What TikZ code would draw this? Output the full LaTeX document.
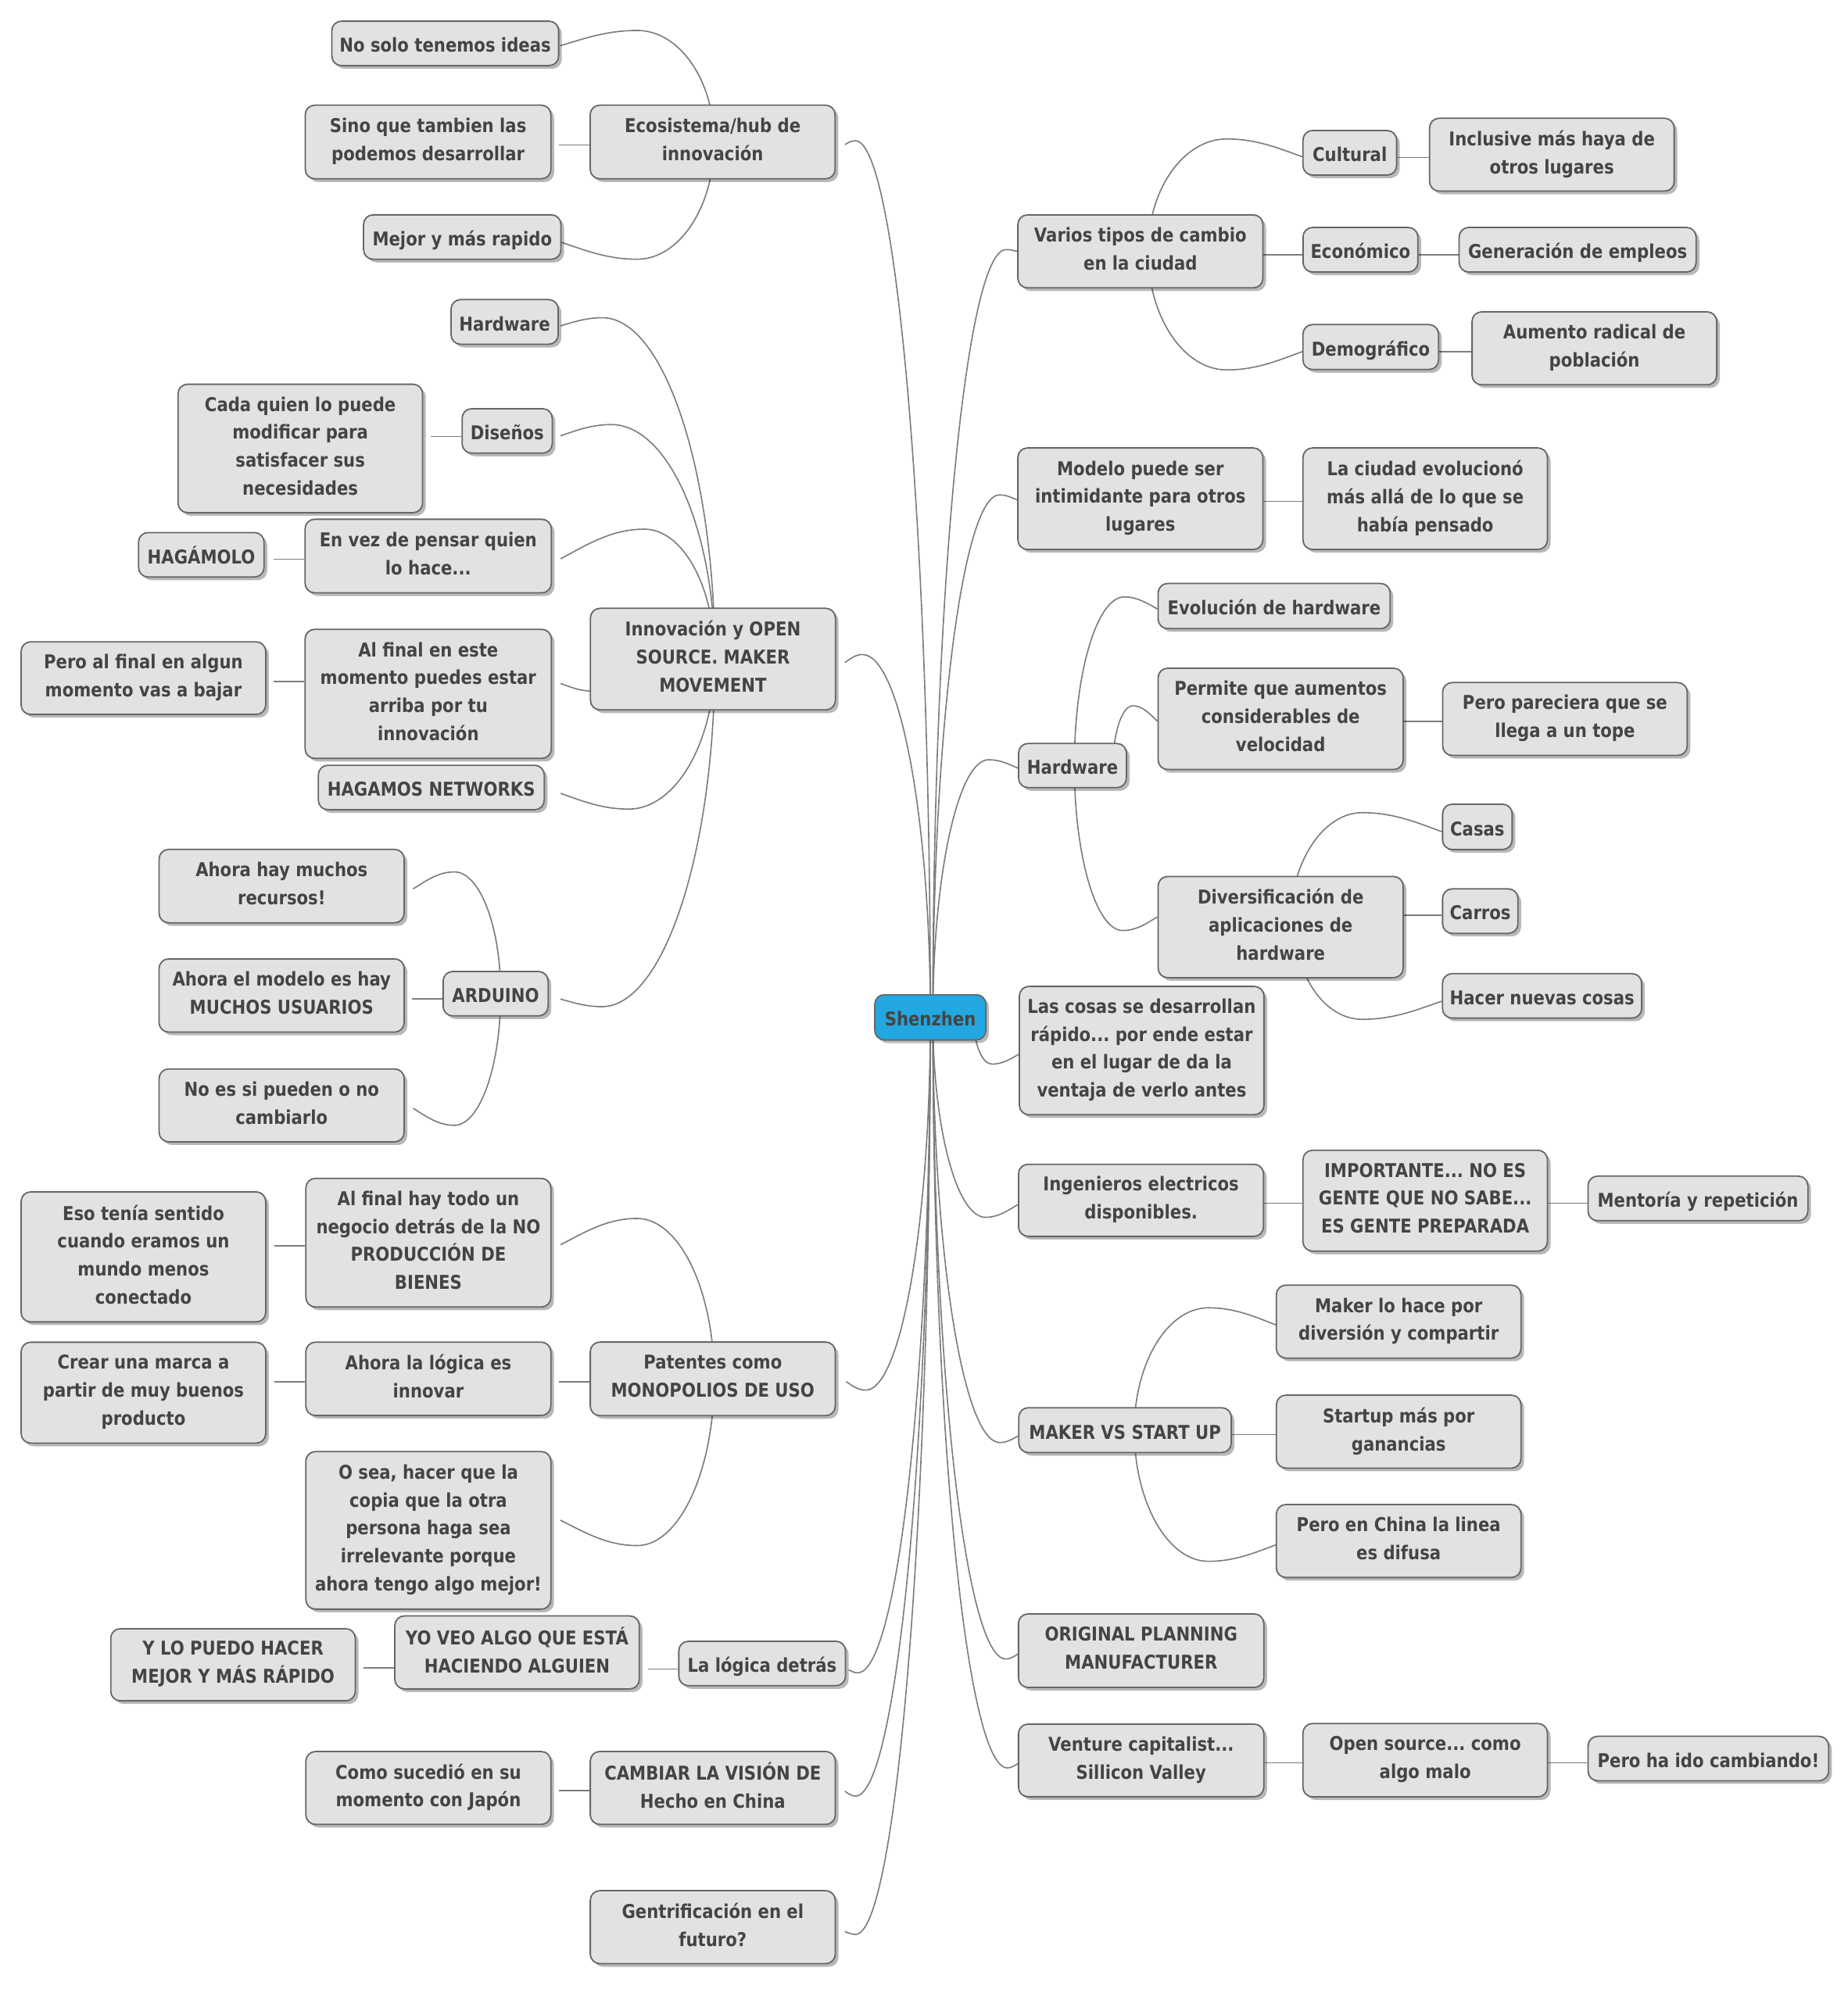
\documentclass[tikz,border=0pt]{standalone}
\usepackage{fontspec}
\newfontfamily\nodefont[FakeStretch=0.87]{DejaVu Sans}
\usetikzlibrary{calc,shadows}
\pgfdeclarelayer{bg}
\pgfsetlayers{bg,main}
\definecolor{boxfill}{HTML}{E2E2E2}
\definecolor{boxline}{HTML}{666666}
\definecolor{txt}{HTML}{444444}
\definecolor{linkc}{HTML}{7C7C7C}
\definecolor{rootfill}{HTML}{22A7E0}
\newcommand\nstrut{\rule[-4.1pt]{0pt}{22pt}}
\tikzset{
  box/.style={draw=boxline, line width=1.1pt, fill=boxfill, rounded corners=7.5pt,
    inner sep=0pt, align=center, text=txt,
    font=\nodefont\bfseries\fontsize{15}{22}\selectfont\frenchspacing,
    drop shadow={shadow xshift=2.5pt, shadow yshift=-2.5pt, opacity=0.28, fill=black},
    execute at begin node=\nstrut, execute at end node=\nstrut},
  rootbox/.style={box, fill=rootfill},
  sz/.style 2 args={minimum width=#1pt, minimum height=#2pt},
  link/.style={draw=linkc, line width=1pt},
}
% curved link: #1 parent anchor, #2 x shift of start, #3 child anchor, #4,#5 end offset, #6,#7 peak offset from end
\newcommand\lnk[7]{%
  \draw[link] let \p1=($(#1)+(#2,0)$), \p3=($(#3)+(#4,#5)$), \p2=($(#3)+({#4+(#6)},{#5+(#7)})$) in
  (\p1) .. controls (\x1,{(\y1)+0.55*((\y2)-(\y1))}) and ({(\x2)+0.55*((\x1)-(\x2))},\y2) .. (\p2)
  .. controls ({(\x2)+0.4*((\x3)-(\x2))},\y2) and ({(\x3)+0.3*((\x2)-(\x3))},{(\y3)+0.45*((\y2)-(\y3))}) .. (\p3);}
% straight link to the left of parent
\newcommand\lsl[2]{\draw[link] ($(#1.west)+(0,#2)$) -- ++(-24,0);}
% straight link to the right, from parent to child
\newcommand\rsl[3]{\draw[link] ($(#1.east)+(0,#3)$) coordinate (tmp) -- (tmp -| #2.west);}

\begin{document}
\begin{tikzpicture}[x=1pt,y=-1pt]
\useasboundingbox (0,0) rectangle (1456,1570.6);
% ---------- root ----------
\node[rootbox, sz={87.5}{35.7}] (root) at (733,801.7) {Shenzhen};
% ---------- left level 1 ----------
\node[box, sz={193}{58}] (ecos) at (561.5,111.9) {Ecosistema/hub de\\innovación};
\node[box, sz={193}{80}] (innov) at (561.7,519.4) {Innovación y OPEN\\SOURCE. MAKER\\MOVEMENT};
\node[box, sz={193}{58}] (pat) at (561.6,1086.6) {Patentes como\\MONOPOLIOS DE USO};
\node[box, sz={131.3}{35}] (logica) at (600.5,1310.9) {La lógica detrás};
\node[box, sz={193}{57.5}] (camb) at (561.6,1409) {CAMBIAR LA VISIÓN DE\\Hecho en China};
\node[box, sz={193}{57.5}] (gent) at (561.6,1518.7) {Gentrificación en el\\futuro?};
% ---------- left level 2 ----------
\node[box, sz={178.7}{35}] (nosolo) at (350.8,34.2) {No solo tenemos ideas};
\node[box, sz={193.6}{58}] (sino) at (337.3,111.9) {Sino que tambien las\\podemos desarrollar};
\node[box, sz={155.5}{35}] (mejor) at (364.2,186.8) {Mejor y más rapido};
\node[box, sz={84.4}{35.2}] (hwl) at (397.6,253.7) {Hardware};
\node[box, sz={71}{35}] (dis) at (399.6,339.6) {Diseños};
\node[box, sz={194}{58}] (envez) at (337.4,438.2) {En vez de pensar quien\\lo hace...};
\node[box, sz={194}{101.7}] (alfinal) at (337.4,546.8) {Al final en este\\momento puedes estar\\arriba por tu\\innovación};
\node[box, sz={178}{35}] (hagamos) at (339.8,620.6) {HAGAMOS NETWORKS};
\node[box, sz={82.7}{35}] (ard) at (390.5,783.1) {ARDUINO};
\node[box, sz={193}{101.4}] (negocio) at (337.5,979.3) {Al final hay todo un\\negocio detrás de la NO\\PRODUCCIÓN DE\\BIENES};
\node[box, sz={193}{57.8}] (ahoralog) at (337.5,1086.6) {Ahora la lógica es\\innovar};
\node[box, sz={193}{124.2}] (osea) at (337.5,1206) {O sea, hacer que la\\copia que la otra\\persona haga sea\\irrelevante porque\\ahora tengo algo mejor!};
\node[box, sz={192.6}{57.5}] (yoveo) at (407.4,1302.2) {YO VEO ALGO QUE ESTÁ\\HACIENDO ALGUIEN};
\node[box, sz={193}{57.4}] (como) at (337.5,1409) {Como sucedió en su\\momento con Japón};
% ---------- left level 3 ----------
\node[box, sz={192.7}{101.2}] (cada) at (236.6,353.4) {Cada quien lo puede\\modificar para\\satisfacer sus\\necesidades};
\node[box, sz={98.9}{35}] (hagam) at (158.6,437.2) {HAGÁMOLO};
\node[box, sz={192.7}{57.2}] (pero1) at (113,534.4) {Pero al final en algun\\momento vas a bajar};
\node[box, sz={193.1}{57.8}] (ahora1) at (221.9,698.3) {Ahora hay muchos\\recursos!};
\node[box, sz={193.1}{57.7}] (ahora2) at (221.9,784.5) {Ahora el modelo es hay\\MUCHOS USUARIOS};
\node[box, sz={193.1}{57.4}] (noes) at (221.9,871.1) {No es si pueden o no\\cambiarlo};
\node[box, sz={192.7}{102.5}] (eso) at (113,990.5) {Eso tenía sentido\\cuando eramos un\\mundo menos\\conectado};
\node[box, sz={192.7}{79.5}] (crear) at (113,1097.5) {Crear una marca a\\partir de muy buenos\\producto};
\node[box, sz={192.7}{56.8}] (ylo) at (183.6,1311.9) {Y LO PUEDO HACER\\MEJOR Y MÁS RÁPIDO};
% ---------- right level 1 ----------
\node[box, sz={193}{57.5}] (varios) at (898.5,198.1) {Varios tipos de cambio\\en la ciudad};
\node[box, sz={193}{80}] (modelo) at (898.5,393) {Modelo puede ser\\intimidante para otros\\lugares};
\node[box, sz={85}{34.8}] (hwr) at (845,603.3) {Hardware};
\node[box, sz={192.7}{101.1}] (cosas) at (899.5,827.9) {Las cosas se desarrollan\\rápido... por ende estar\\en el lugar de da la\\ventaja de verlo antes};
\node[box, sz={193}{56.8}] (ing) at (899,945.9) {Ingenieros electricos\\disponibles.};
\node[box, sz={167.4}{35.3}] (maker) at (886.4,1127) {MAKER VS START UP};
\node[box, sz={193.3}{57.9}] (orig) at (899.1,1300.8) {ORIGINAL PLANNING\\MANUFACTURER};
\node[box, sz={193.3}{57.2}] (vent) at (899.1,1387.3) {Venture capitalist...\\Sillicon Valley};
% ---------- right level 2 and 3 ----------
\node[box, sz={73.8}{35.1}] (cult) at (1063.5,120.4) {Cultural};
\node[box, sz={90.5}{35.1}] (econ) at (1071.9,196.8) {Económico};
\node[box, sz={106.8}{35.4}] (demo) at (1080,273.5) {Demográfico};
\node[box, sz={192.7}{57.4}] (inclu) at (1222.7,121.9) {Inclusive más haya de\\otros lugares};
\node[box, sz={186.7}{35.1}] (gener) at (1243,196.8) {Generación de empleos};
\node[box, sz={192.7}{57.5}] (aumento) at (1256.2,274.5) {Aumento radical de\\población};
\node[box, sz={192.6}{80}] (ciudad) at (1122.9,393) {La ciudad evolucionó\\más allá de lo que se\\había pensado};
\node[box, sz={182.8}{35.6}] (evol) at (1003.9,477.6) {Evolución de hardware};
\node[box, sz={193.1}{79.8}] (permite) at (1009,566.5) {Permite que aumentos\\considerables de\\velocidad};
\node[box, sz={193.1}{79.7}] (diver) at (1009,730.6) {Diversificación de\\aplicaciones de\\hardware};
\node[box, sz={192.7}{57.4}] (parec) at (1233,566.6) {Pero pareciera que se\\llega a un tope};
\node[box, sz={54.8}{35.7}] (casas) at (1164,651.6) {Casas};
\node[box, sz={59.4}{35}] (carros) at (1166.3,718) {Carros};
\node[box, sz={156.9}{35}] (hacer) at (1215,784.8) {Hacer nuevas cosas};
\node[box, sz={192.6}{79.5}] (import) at (1122.9,946.2) {IMPORTANTE... NO ES\\GENTE QUE NO SABE...\\ES GENTE PREPARADA};
\node[box, sz={173.2}{35.1}] (mentor) at (1337.8,944.4) {Mentoría y repetición};
\node[box, sz={192.7}{57.5}] (mlh) at (1102,1041.5) {Maker lo hace por\\diversión y compartir};
\node[box, sz={192.7}{57.5}] (startup) at (1102,1128.2) {Startup más por\\ganancias};
\node[box, sz={192.7}{57.5}] (china) at (1102,1214.4) {Pero en China la linea\\es difusa};
\node[box, sz={192.6}{57.8}] (opens) at (1122.9,1387.1) {Open source... como\\algo malo};
\node[box, sz={189.5}{35}] (idocam) at (1346,1385.8) {Pero ha ido cambiando!};

\begin{pgfonlayer}{bg}
\fill[white] (0,0) rectangle (1456,1570.6);
% root, right side
\lnk{root.center}{2}{varios.west}{0}{0}{-8.8}{-1.4}
\lnk{root.center}{2}{modelo.west}{0}{1}{-14}{-4}
\lnk{root.center}{2}{hwr.west}{0}{2}{-23}{-6.6}
\lnk{root.center}{34}{cosas.west}{0}{3}{-21}{7.7}
\lnk{root.center}{2}{ing.west}{0}{3.4}{-25.5}{10}
\lnk{root.center}{2}{maker.west}{0}{4.6}{-14.4}{5.2}
\lnk{root.center}{2}{orig.west}{0}{2.7}{-9.4}{3.9}
\lnk{root.center}{2}{vent.west}{0}{2.5}{-8.2}{3.4}
% root, left side
\lnk{root.center}{0}{ecos.east}{7.2}{2}{8.2}{-3}
\lnk{root.center}{0}{innov.east}{7}{2.7}{13.7}{-6.3}
\lnk{root.center}{0}{pat.east}{8}{2.2}{15.4}{6.7}
\lnk{root.center}{0}{logica.east}{2}{5}{7}{2.4}
\lnk{root.center}{0}{camb.east}{7}{2.6}{8.4}{3.8}
\lnk{root.center}{0}{gent.east}{7}{3.4}{8.4}{2.3}
% Ecosistema
\lnk{ecos.center}{1.2}{nosolo.east}{0.9}{1.8}{60.5}{-12}
\lsl{ecos}{2.3}
\lnk{ecos.center}{1.2}{mejor.east}{0}{4.2}{59.5}{13.3}
% Innovacion
\lnk{innov.center}{1.5}{hwl.east}{1.3}{3.1}{33}{-6.4}
\lnk{innov.center}{1.5}{dis.east}{6}{3.8}{40}{-8.8}
\lnk{innov.center}{1.5}{envez.east}{6.7}{2.2}{66}{-23.4}
\lnk{innov.center}{-40}{alfinal.east}{6.7}{-8.2}{25}{6}
\lnk{innov.center}{1.5}{hagamos.east}{12.3}{4.6}{53.7}{12.4}
\lnk{innov.center}{1.5}{ard.east}{9.2}{4.2}{32.6}{6}
\lsl{dis}{4.3}
\lsl{envez}{2.5}
\lsl{alfinal}{-9.9}
% ARDUINO
\lnk{ard.center}{4}{ahora1.east}{6.5}{2.2}{32.5}{-13.4}
\lsl{ard}{4.2}
\lnk{ard.center}{4}{noes.east}{6.5}{2.3}{32.5}{13.4}
% Patentes
\lnk{pat.center}{1.1}{negocio.east}{7}{1.7}{60.4}{-20.8}
\lsl{pat}{2.2}
\lnk{pat.center}{1.1}{osea.east}{7}{-8}{60.4}{20}
\lsl{negocio}{2.4}
\lsl{ahoralog}{2.2}
% La logica, Cambiar
\lsl{logica}{4.3}
\lsl{yoveo}{12}
\lsl{camb}{2}
% Varios tipos
\lnk{varios.center}{6}{cult.west}{0}{3.1}{-59.5}{-14}
\rsl{varios}{econ}{2.6}
\lnk{varios.center}{6}{demo.west}{0}{3.6}{-59.5}{14.4}
\rsl{cult}{inclu}{3.8}
\rsl{econ}{gener}{3.9}
\rsl{demo}{aumento}{3.6}
\rsl{modelo}{ciudad}{2}
% Hardware
\lnk{hwr.center}{1.5}{evol.west}{0}{2.3}{-26.1}{-9.5}
\lnk{hwr.center}{32}{permite.west}{0}{1.8}{-19.3}{-12.1}
\lnk{hwr.center}{1.5}{diver.west}{0}{-8}{-27.3}{10.7}
\rsl{permite}{parec}{1.8}
\lnk{diver.center}{7}{casas.west}{0}{3.8}{-62.7}{-15}
\rsl{diver}{carros}{-9.2}
\lnk{diver.center}{12}{hacer.west}{0}{4.2}{-62.7}{14.3}
% Ingenieros
\rsl{ing}{import}{2.3}
\rsl{import}{mentor}{2}
% Maker
\lnk{maker.center}{7.3}{mlh.west}{0}{2.5}{-53}{-13.4}
\rsl{maker}{startup}{3.6}
\lnk{maker.center}{7.3}{china.west}{0}{3.1}{-53}{12.9}
% Venture
\rsl{vent}{opens}{1.8}
\rsl{opens}{idocam}{2.2}
\end{pgfonlayer}
\end{tikzpicture}
\end{document}
